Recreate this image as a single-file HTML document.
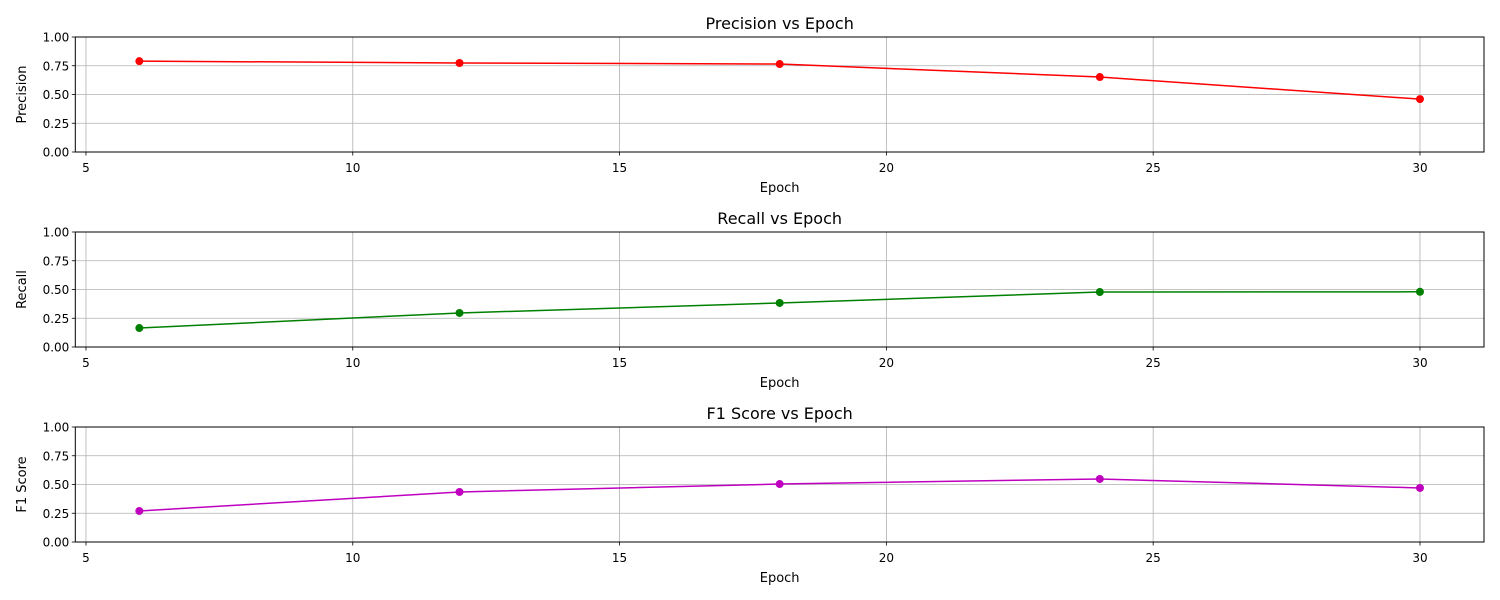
<!DOCTYPE html>
<html><head><meta charset="utf-8"><style>body{margin:0;background:#fff}svg{display:block;font-family:"DejaVu Sans","Liberation Sans",sans-serif}</style></head>
<body>
<svg id="c" width="1500" height="600"></svg>
<script>
const epochs=[6,12,18,24,30];
const precision=[0.79,0.774,0.765,0.652,0.46];
const recall=[0.165,0.296,0.383,0.478,0.48];
const f1=[0.27,0.435,0.504,0.548,0.47];
const xTicks=[5,10,15,20,25,30];
const yTicks=[0,0.25,0.5,0.75,1.0];
const yTickLabels=["0.00","0.25","0.50","0.75","1.00"];
const panels=[
 {title:"Precision vs Epoch",ylabel:"Precision",vals:precision,color:"#ff0000",top:37,name:"precision"},
 {title:"Recall vs Epoch",ylabel:"Recall",vals:recall,color:"#008000",top:232,name:"recall"},
 {title:"F1 Score vs Epoch",ylabel:"F1 Score",vals:f1,color:"#bf00bf",top:427,name:"f1"}];
const svg=document.getElementById('c'),NS="http://www.w3.org/2000/svg";
const L=75.3,R=1484,H=115,xmin=4.8,xmax=31.2;
const xs=v=>L+(v-xmin)/(xmax-xmin)*(R-L);
function el(t,a,p,txt){const e=document.createElementNS(NS,t);for(const k in a)e.setAttribute(k,a[k]);if(txt!=null)e.textContent=txt;(p||svg).appendChild(e);return e;}
panels.forEach(p=>{
 const g=el('g',{});
 
 
 const ys=v=>p.top+H-v*H;
 xTicks.forEach(t=>{const x=xs(t);
  const l=el('line',{x1:x,x2:x,y1:p.top,y2:p.top+H,stroke:"#b0b0b0","stroke-width":0.8},g);
  
  el('line',{x1:x,x2:x,y1:p.top+H,y2:p.top+H+3.5,stroke:"#000","stroke-width":0.8},g);
  const tx=el('text',{x:x,y:p.top+H+20,"font-size":12,"text-anchor":"middle"},g,t);
  });
 yTicks.forEach((t,i)=>{const y=ys(t);
  const l=el('line',{x1:L,x2:R,y1:y,y2:y,stroke:"#b0b0b0","stroke-width":0.8},g);
  
  el('line',{x1:L-3.5,x2:L,y1:y,y2:y,stroke:"#000","stroke-width":0.8},g);
  const tx=el('text',{x:L-6,y:y+4.5,"font-size":12,"text-anchor":"end"},g,yTickLabels[i]);
  });
 const fr=el('rect',{x:L,y:p.top,width:R-L,height:H,fill:"none",stroke:"#000","stroke-width":1},g);
 
 const pts=epochs.map((e,i)=>xs(e)+","+ys(p.vals[i])).join(" ");
 const pl=el('polyline',{points:pts,fill:"none",stroke:p.color,"stroke-width":1.5},g);
 
 epochs.forEach((e,i)=>{const c=el('circle',{cx:xs(e),cy:ys(p.vals[i]),r:4,fill:p.color},g);
  });
 const t=el('text',{x:(L+R)/2,y:p.top-8,"font-size":16,"text-anchor":"middle"},g,p.title);
 
 const xl=el('text',{x:(L+R)/2,y:p.top+H+40,"font-size":13,"text-anchor":"middle"},g,"Epoch");
 
 const yy=p.top+H/2;
 const yl=el('text',{x:26,y:yy,"font-size":13,"text-anchor":"middle",transform:`rotate(-90 26 ${yy})`},g,p.ylabel);
 
});
</script>
</body></html>
